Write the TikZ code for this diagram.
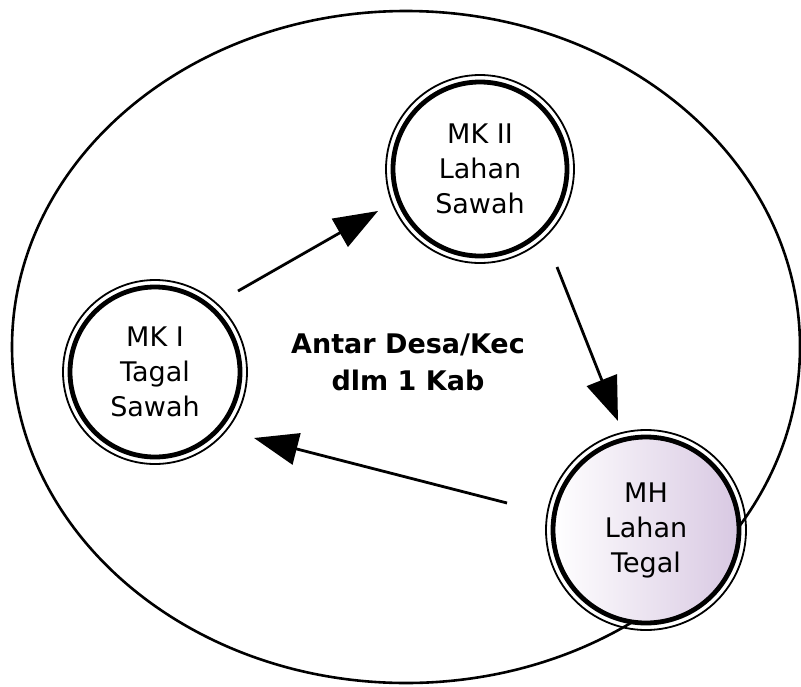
\documentclass[tikz,border=0pt]{standalone}
\usepackage{fontspec}
\setmainfont{DejaVu Sans}
\usetikzlibrary{arrows.meta}

\definecolor{lavender}{RGB}{216,200,226}

\tikzset{
  season/.style={circle, draw, line width=4.8pt, inner sep=0pt,
    font=\fontsize{27}{35}\selectfont, align=center},
  outerring/.style={line width=1.8pt},
  flow/.style={line width=2.8pt, -{Triangle[length=44pt,width=32pt]}},
  region/.style={line width=2.6pt},
}

\begin{document}
\begin{tikzpicture}[x=1pt,y=-1pt]
  \useasboundingbox (0,0) rectangle (801,686);

  % surrounding region: villages/districts within one regency
  \draw[region] (406,347) ellipse [x radius=394, y radius=336];

  % planting seasons, each a double ring
  \node[season, minimum size=174pt] (mk2) at (480,169) {MK II\\Lahan\\Sawah};
  \draw[outerring] (mk2.center) circle (94);

  \node[season, minimum size=170pt] (mk1) at (155,372) {MK I\\Tagal\\Sawah};
  \draw[outerring] (mk1.center) circle (92);

  \node[season, minimum size=186pt, left color=white, right color=lavender] (mh) at (646,530) {MH\\Lahan\\Tegal};
  \draw[outerring] (mh.center) circle (100);

  % centre caption
  \node[font=\bfseries\fontsize{27}{37}\selectfont, align=center] (cap) at (408,362)
    {Antar Desa/Kec\\dlm 1 Kab};

  % rotation arrows
  \coordinate (s1) at (238,291);
  \coordinate (e1) at (378,211);
  \coordinate (s2) at (557,267);
  \coordinate (e2) at (618,421);
  \coordinate (s3) at (507,503);
  \coordinate (e3) at (254,438);
  \draw[flow] (s1) -- (e1);
  \draw[flow] (s2) -- (e2);
  \draw[flow] (s3) -- (e3);
\end{tikzpicture}
\end{document}
